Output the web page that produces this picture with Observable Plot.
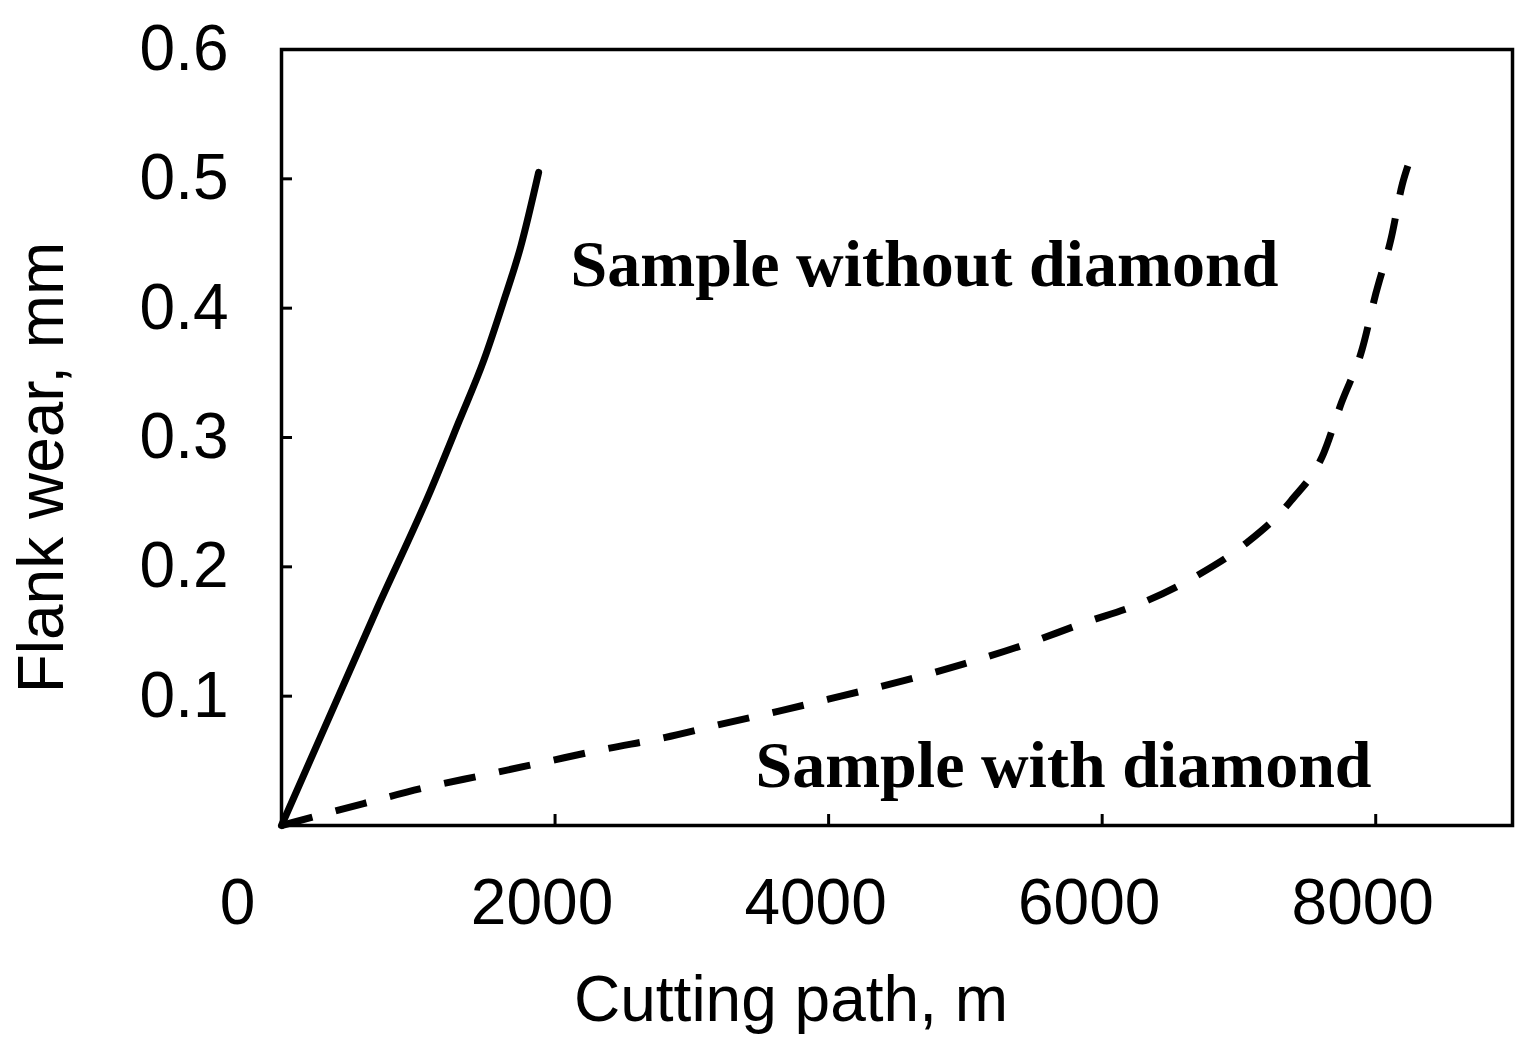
<!DOCTYPE html>
<html><head><meta charset="utf-8">
<script src="https://cdn.jsdelivr.net/npm/d3@7"></script>
<script src="https://cdn.jsdelivr.net/npm/@observablehq/plot@0.6"></script>
<style>html,body{margin:0;padding:0;background:#fff}#chart svg{display:block}</style>
</head><body><div id="chart"></div>
<script>
// Sample without diamond (solid)
const pathWithout = [0, 700, 1090, 1300, 1480, 1620, 1750, 1880];
const wearWithout = [0, 0.168, 0.259, 0.313, 0.360, 0.404, 0.448, 0.505];
// Sample with diamond (dashed)
const pathWith = [0, 600, 1040, 1480, 1920, 2360, 2800, 3240, 3660, 4090, 4550, 4990, 5410, 5850, 6310, 6690, 7050, 7380, 7620, 7750, 7900, 8000, 8115, 8195, 8235];
const wearWith = [0, 0.017, 0.029, 0.039, 0.049, 0.059, 0.068, 0.079, 0.089, 0.100, 0.112, 0.125, 0.139, 0.156, 0.173, 0.193, 0.218, 0.251, 0.288, 0.327, 0.368, 0.411, 0.455, 0.496, 0.510];
// tick labels
const xTicks = [2000, 4000, 6000, 8000];
const xZeroTick = [0];
const yTicks = [0.1, 0.2, 0.3, 0.4, 0.5, 0.6];
// annotations
const labelTexts = ["Sample without diamond", "Sample with diamond"];
const labelX = [2113, 3465];
const labelY = [0.4175, 0.0294];

const solid = pathWithout.map((x, i) => ({x, y: wearWithout[i]}));
const dashed = pathWith.map((x, i) => ({x, y: wearWith[i]}));
const labels = labelTexts.map((t, i) => ({t, x: labelX[i], y: labelY[i]}));

const W = 1537, H = 1050, ML = 281, MR = 25, MT = 49, MB = 225;
const frameW = W - ML - MR, frameH = H - MT - MB, tickLen = 11;
const sans = "'Liberation Sans', Arial, sans-serif";
const chart = Plot.plot({
  width: W,
  height: H,
  marginLeft: ML,
  marginRight: MR,
  marginTop: MT,
  marginBottom: MB,
  style: {fontFamily: sans, fontSize: "64px", color: "#000", background: "#fff"},
  x: {domain: [0, 9000]},
  y: {domain: [0, 0.6]},
  marks: [
    Plot.axisY(yTicks, {tickSize: 0, tickPadding: 53, tickFormat: d3.format(".1f"), label: null, fontSize: 64}),
    Plot.axisX(xTicks, {tickSize: 0, tickPadding: 53, dx: -13, tickFormat: d => String(d), label: null, fontSize: 64}),
    Plot.axisX(xZeroTick, {tickSize: 0, tickPadding: 53, dx: -44, tickFormat: d => String(d), label: null, fontSize: 64}),
    Plot.tickX(xTicks, {x: d => d, stroke: "#000", strokeWidth: 3, insetTop: frameH - tickLen}),
    Plot.tickY(yTicks, {y: d => d, stroke: "#000", strokeWidth: 3, insetRight: frameW - tickLen}),
    Plot.frame({stroke: "#000", strokeWidth: 3.5}),
    Plot.line(solid, {x: "x", y: "y", stroke: "#000", strokeWidth: 7, curve: "monotone-x"}),
    Plot.line(dashed, {x: "x", y: "y", stroke: "#000", strokeWidth: 7, strokeDasharray: "32,24", strokeLinecap: "butt", curve: "monotone-x"}),
    Plot.text(labels, {x: "x", y: "y", text: "t", textAnchor: "start", lineAnchor: "bottom", fontFamily: "'Liberation Serif', 'Times New Roman', serif", fontWeight: "bold", fontSize: 66, fill: "#000"}),
    Plot.text(["Cutting path, m"], {frameAnchor: "bottom", textAnchor: "middle", dx: -106, dy: 195, lineAnchor: "bottom", text: d => d, fontSize: 64, fill: "#000"}),
    Plot.text(["Flank wear, mm"], {frameAnchor: "left", textAnchor: "middle", dx: -219, dy: 30, rotate: -90, lineAnchor: "bottom", text: d => d, fontSize: 64, fill: "#000"})
  ]
});
document.getElementById("chart").appendChild(chart);
</script>
</body></html>
